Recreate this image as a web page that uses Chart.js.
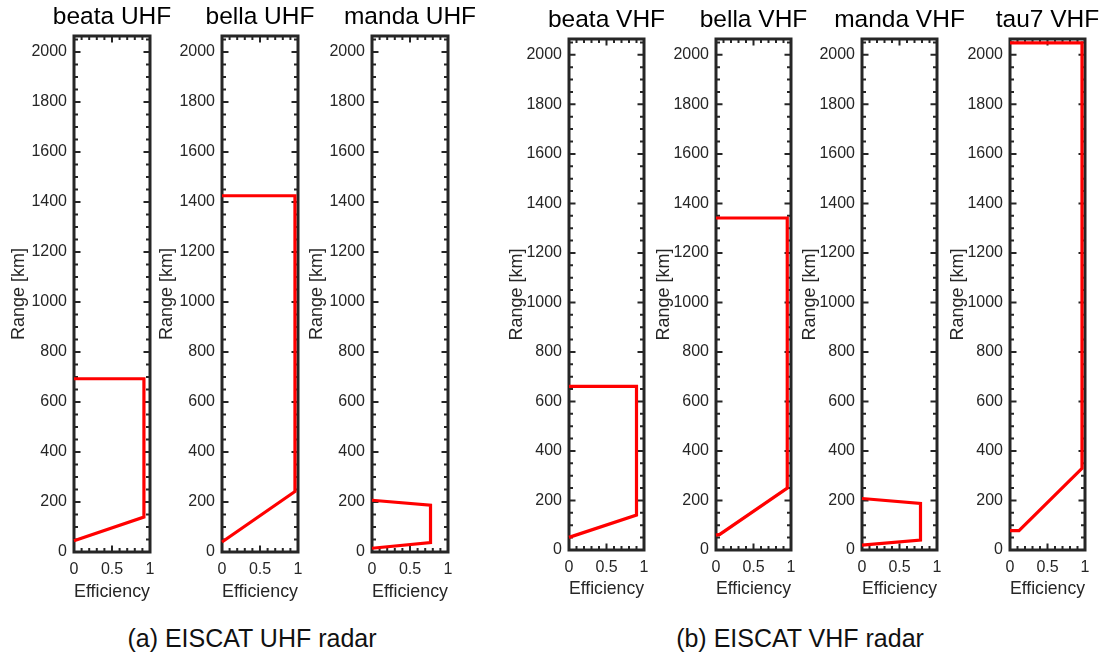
<!DOCTYPE html>
<html>
<head>
<meta charset="utf-8">
<script src="https://cdn.jsdelivr.net/npm/chart.js@4.4.0/dist/chart.umd.min.js"></script>
<style>
  html, body { margin: 0; padding: 0; background: #fff; }
  body { position: relative; width: 1103px; height: 652px; overflow: hidden; font-family: "Liberation Sans", Arial, sans-serif; }
  canvas { position: absolute; top: 0; }
  .caption { position: absolute; top: 626px; font-size: 25px; line-height: 25px; color: #111; white-space: nowrap; transform: translateX(-50%); }
</style>
</head>
<body>
<div id="wrap"></div>
<div class="caption" style="left:252px">(a) EISCAT UHF radar</div>
<div class="caption" style="left:800px">(b) EISCAT VHF radar</div>
<script>
// --- data ---
const panelTitles = ['beata UHF', 'bella UHF', 'manda UHF', 'beata VHF', 'bella VHF', 'manda VHF', 'tau7 VHF'];

const beataUhfEff   = [0, 0.92, 0.92, 0];
const beataUhfRange = [693, 693, 140, 45];
const bellaUhfEff   = [0, 0.96, 0.96, 0];
const bellaUhfRange = [1425, 1425, 242, 40];
const mandaUhfEff   = [0, 0.77, 0.77, 0];
const mandaUhfRange = [207, 187, 38, 15];

const beataVhfEff   = [0, 0.9, 0.9, 0];
const beataVhfRange = [661, 661, 141, 51];
const bellaVhfEff   = [0, 0.95, 0.95, 0.05, 0];
const bellaVhfRange = [1341, 1341, 250, 63, 60];
const mandaVhfEff   = [0, 0.78, 0.78, 0];
const mandaVhfRange = [208, 188, 40, 20];
const tau7VhfEff    = [0, 0.96, 0.96, 0.12, 0];
const tau7VhfRange  = [2048, 2048, 330, 78, 78];

const xTicks = [0, 0.5, 1];
const yMax = 2064;

// --- layout ---
const AXIS_COLOR = '#262626';
const FONT = '"Liberation Sans", Arial, sans-serif';
const TITLE_SIZE = 24.5;
const CANVAS_H = 610;
const SIDE = 72;

const groups = {
  uhf: { top: 36, bottom: 552, width: 76, titleTop: 2.2, effPad: 7.2, rangePad: 6.5 },
  vhf: { top: 39, bottom: 550, width: 75, titleTop: 5.2, effPad: 9.7, rangePad: 9.7 }
};

const panels = [
  { eff: beataUhfEff, range: beataUhfRange, left: 74,   g: groups.uhf },
  { eff: bellaUhfEff, range: bellaUhfRange, left: 222,  g: groups.uhf },
  { eff: mandaUhfEff, range: mandaUhfRange, left: 372,  g: groups.uhf },
  { eff: beataVhfEff, range: beataVhfRange, left: 569,  g: groups.vhf },
  { eff: bellaVhfEff, range: bellaVhfRange, left: 716,  g: groups.vhf },
  { eff: mandaVhfEff, range: mandaVhfRange, left: 862,  g: groups.vhf },
  { eff: tau7VhfEff,  range: tau7VhfRange,  left: 1010, g: groups.vhf }
];

// box frame + inward minor/major ticks on all four sides
const frameTicks = {
  id: 'frameTicks',
  beforeDatasetsDraw(chart) {
    const { ctx, chartArea: a, scales: { x, y } } = chart;
    ctx.save();
    ctx.strokeStyle = AXIS_COLOR;
    ctx.lineWidth = 2;
    ctx.beginPath();
    for (let v = 0; v <= yMax; v += 50) {
      const py = y.getPixelForValue(v);
      const len = v % 200 === 0 ? 6.5 : 4;
      ctx.moveTo(a.left, py); ctx.lineTo(a.left + len, py);
      ctx.moveTo(a.right, py); ctx.lineTo(a.right - len, py);
    }
    for (let i = 0; i <= 10; i++) {
      const px = x.getPixelForValue(i / 10);
      const len = i % 5 === 0 ? 6.5 : 4;
      ctx.moveTo(px, a.bottom); ctx.lineTo(px, a.bottom - len);
      ctx.moveTo(px, a.top); ctx.lineTo(px, a.top + len);
    }
    ctx.stroke();
    ctx.lineWidth = 3;
    ctx.strokeRect(a.left, a.top, a.right - a.left, a.bottom - a.top);
    ctx.restore();
  }
};

const wrap = document.getElementById('wrap');
const plain = v => String(v);

panels.forEach((p, idx) => {
  const g = p.g;
  const canvas = document.createElement('canvas');
  canvas.width = g.width + 2 * SIDE;
  canvas.height = CANVAS_H;
  canvas.style.left = (p.left - SIDE) + 'px';
  wrap.appendChild(canvas);

  const titleLine = TITLE_SIZE * 1.2;
  new Chart(canvas, {
    type: 'scatter',
    data: {
      datasets: [{
        data: p.eff.map((e, i) => ({ x: e, y: p.range[i] })),
        showLine: true,
        borderColor: '#ff0000',
        borderWidth: 3.2,
        pointRadius: 0,
        tension: 0,
        fill: false,
        clip: false
      }]
    },
    options: {
      responsive: false,
      animation: false,
      events: [],
      layout: { padding: 0 },
      plugins: {
        legend: { display: false },
        tooltip: { enabled: false },
        title: {
          display: true,
          text: panelTitles[idx],
          color: '#000',
          font: { family: FONT, size: TITLE_SIZE, weight: 'normal' },
          padding: { top: g.titleTop, bottom: g.top - g.titleTop - titleLine }
        }
      },
      scales: {
        x: {
          type: 'linear',
          min: 0,
          max: 1,
          grid: { display: false, drawTicks: false },
          border: { display: false },
          afterBuildTicks: s => { s.ticks = xTicks.map(v => ({ value: v })); },
          ticks: { color: AXIS_COLOR, font: { family: FONT, size: 16 }, padding: 8, maxRotation: 0, callback: plain },
          title: {
            display: true,
            text: 'Efficiency',
            color: AXIS_COLOR,
            font: { family: FONT, size: 18 },
            padding: { top: 0, bottom: g.effPad }
          },
          afterFit: s => { s.height = CANVAS_H - g.bottom; }
        },
        y: {
          type: 'linear',
          position: 'left',
          min: 0,
          max: yMax,
          grid: { display: false, drawTicks: false },
          border: { display: false },
          ticks: { stepSize: 200, includeBounds: false, color: AXIS_COLOR, font: { family: FONT, size: 16 }, padding: 7, callback: plain },
          title: {
            display: true,
            text: 'Range [km]',
            color: AXIS_COLOR,
            font: { family: FONT, size: 18 },
            padding: { top: g.rangePad, bottom: 0 }
          },
          afterFit: s => { s.width = SIDE; }
        },
        // empty right-hand box so the title stays centred over the plot
        yRight: {
          type: 'linear',
          position: 'right',
          min: 0,
          max: yMax,
          grid: { display: false, drawTicks: false },
          border: { display: false },
          ticks: { display: false },
          afterFit: s => { s.width = SIDE; }
        }
      }
    },
    plugins: [frameTicks]
  });
});
</script>
</body>
</html>
